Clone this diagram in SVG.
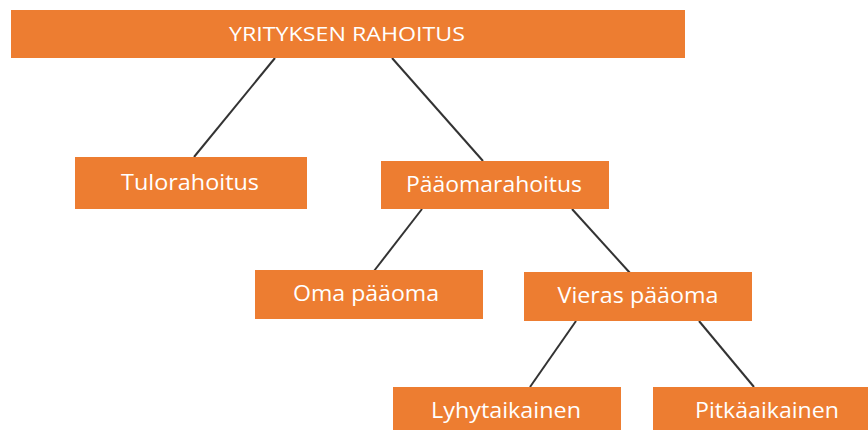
<svg xmlns="http://www.w3.org/2000/svg" width="868" height="430" viewBox="0 0 868 430">
<style>
.box{fill:#ED7D31;}
.t{fill:#fff;font-family:"Open Sans","Liberation Sans",sans-serif;font-size:22px;text-anchor:middle;}
.top{font-size:20px;}
.c{stroke:#333;stroke-width:2;fill:none;}
</style>
<rect width="868" height="430" fill="#fff"/>
<g id="connectors">
<line class="c" x1="275" y1="58" x2="194" y2="157"/>
<line class="c" x1="392" y1="58" x2="483" y2="161"/>
<line class="c" x1="422" y1="209" x2="374" y2="271"/>
<line class="c" x1="572" y1="209" x2="630" y2="273"/>
<line class="c" x1="576" y1="321" x2="530" y2="387"/>
<line class="c" x1="699" y1="321" x2="754" y2="387"/>
</g>
<g id="yrityksen">
<rect class="box" x="11" y="10" width="674" height="48"/>
<text class="t top" x="347" y="41" textLength="236" lengthAdjust="spacingAndGlyphs">YRITYKSEN RAHOITUS</text>
</g>
<g id="tulorahoitus">
<rect class="box" x="75" y="157" width="232" height="52"/>
<text class="t" x="190" y="190" textLength="138" lengthAdjust="spacingAndGlyphs">Tulorahoitus</text>
</g>
<g id="paaomarahoitus">
<rect class="box" x="381" y="161" width="228" height="48"/>
<text class="t" x="494" y="192" textLength="176" lengthAdjust="spacingAndGlyphs">Pääomarahoitus</text>
</g>
<g id="oma">
<rect class="box" x="255" y="270" width="228" height="49"/>
<text class="t" x="366" y="301" textLength="146" lengthAdjust="spacingAndGlyphs">Oma pääoma</text>
</g>
<g id="vieras">
<rect class="box" x="524" y="272" width="228" height="49"/>
<text class="t" x="638" y="303" textLength="161" lengthAdjust="spacingAndGlyphs">Vieras pääoma</text>
</g>
<g id="lyhyt">
<rect class="box" x="393" y="387" width="228" height="50"/>
<text class="t" x="506" y="418" textLength="150" lengthAdjust="spacingAndGlyphs">Lyhytaikainen</text>
</g>
<g id="pitka">
<rect class="box" x="653" y="387" width="230" height="50"/>
<text class="t" x="767" y="418" textLength="144" lengthAdjust="spacingAndGlyphs">Pitkäaikainen</text>
</g>
</svg>
